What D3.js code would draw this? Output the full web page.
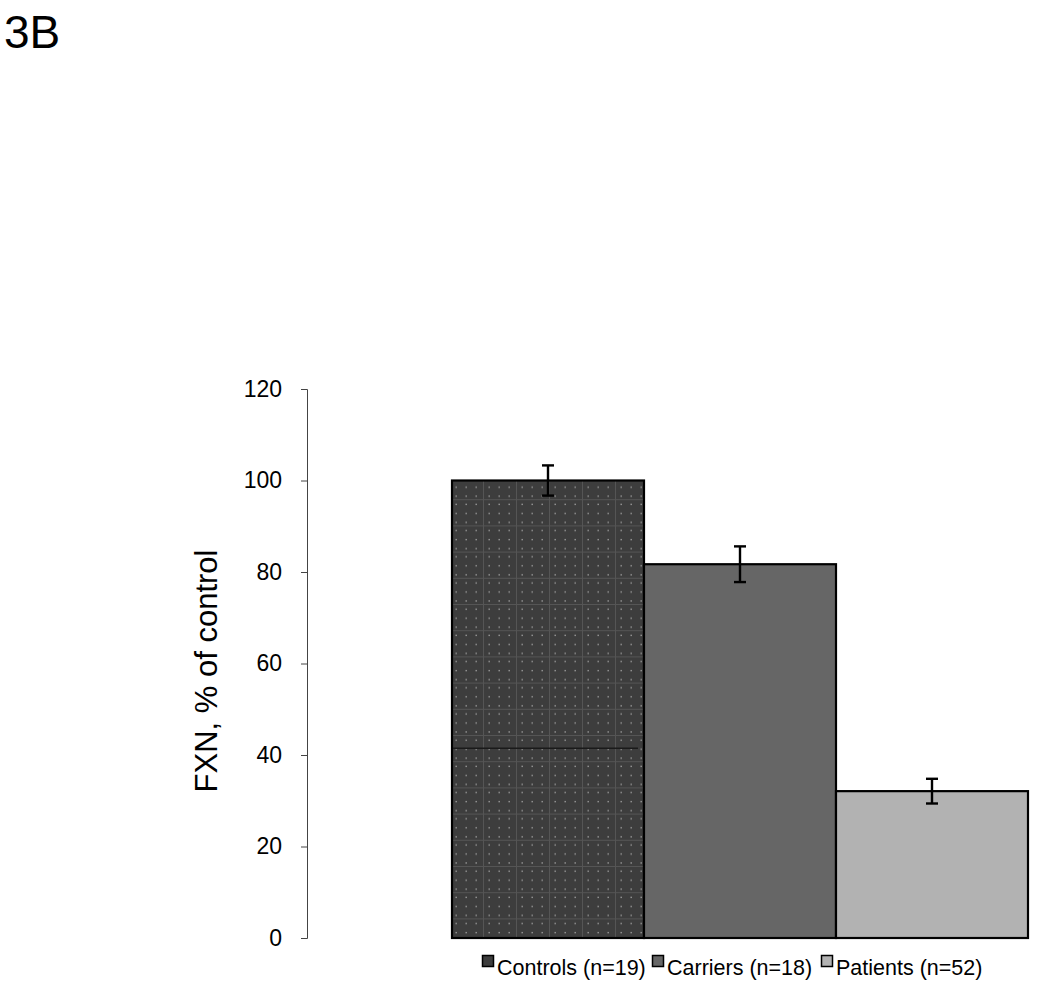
<!DOCTYPE html>
<html><head><meta charset="utf-8">
<script src="https://cdn.jsdelivr.net/npm/d3@7"></script>
<style>body{margin:0;background:#fff}svg{display:block;font-family:"Liberation Sans",Arial,sans-serif}</style>
</head><body>
<svg id="c" width="1050" height="995"></svg>
<script>
const categories = ["Controls (n=19)", "Carriers (n=18)", "Patients (n=52)"];
const values = [100, 81.7, 32.1];
const errors = [3.3, 3.9, 2.7];
const yTicks = [0, 20, 40, 60, 80, 100, 120];
const colors = ["#3d3d3d", "#666666", "#b2b2b2"];

const svg = d3.select("#c");
const y = d3.scaleLinear().domain([0, 120]).range([938, 389]);
const x = d3.scaleBand().domain(categories).range([452, 1028]).padding(0);

// pattern for Controls
const defs = svg.append("defs");
const pat = defs.append("pattern").attr("id","dots").attr("patternUnits","userSpaceOnUse")
  .attr("width", 33).attr("height", 26.2).attr("x", 450).attr("y", 473);
pat.append("rect").attr("width",33).attr("height",26.2).attr("fill",colors[0]);
pat.append("line").attr("x1",0.5).attr("x2",0.5).attr("y1",0).attr("y2",26.2).attr("stroke","#555").attr("stroke-width",1);
pat.append("line").attr("x1",0).attr("x2",33).attr("y1",0.5).attr("y2",0.5).attr("stroke","#555").attr("stroke-width",1);
[5.5,15.5,25.5].forEach(px=>[4.5,13.5,22.5].forEach(py=>{
  pat.append("rect").attr("x",px).attr("y",py).attr("width",1.4).attr("height",1.4).attr("fill","#9a9a9a");
}));

// axis
const yAxis = d3.axisLeft(y).tickValues(yTicks).tickSize(6).tickPadding(19);
const ga = svg.append("g").attr("transform","translate(307,0)").call(yAxis);
ga.attr("font-size", 23).attr("font-family","Liberation Sans, Arial, sans-serif");
ga.select(".domain").attr("stroke","#444").attr("stroke-width",1).attr("d","M-6,389.5H0.5V938.5H-6");
ga.selectAll(".tick line").attr("stroke","#444");
ga.selectAll(".tick text").attr("fill","#000");

// bars
svg.selectAll("rect.bar").data(categories).join("rect").attr("class","bar")
  .attr("x", d=>x(d)).attr("width", x.bandwidth())
  .attr("y", (d,i)=>y(values[i])).attr("height",(d,i)=>y(0)-y(values[i]))
  .attr("fill",(d,i)=> i===0 ? "url(#dots)" : colors[i])
  .attr("stroke","#000").attr("stroke-width",2.2);

// artifact line in controls bar
svg.append("line").attr("x1",x(categories[0])+1).attr("x2",x(categories[0])+x.bandwidth()-6)
  .attr("y1",y(41.5)).attr("y2",y(41.5)).attr("stroke","#1a1a1a").attr("stroke-width",1.5);

// error bars
const eg = svg.append("g").attr("stroke","#000").attr("stroke-width",2.4);
categories.forEach((c,i)=>{
  const cx = x(c) + x.bandwidth()/2;
  const t = y(values[i]+errors[i]), b = y(values[i]-errors[i]);
  eg.append("line").attr("x1",cx).attr("x2",cx).attr("y1",t).attr("y2",b);
  eg.append("line").attr("x1",cx-6).attr("x2",cx+6).attr("y1",t).attr("y2",t);
  eg.append("line").attr("x1",cx-6).attr("x2",cx+6).attr("y1",b).attr("y2",b);
});

// y title
svg.append("text").attr("transform","translate(217,671) rotate(-90)").attr("text-anchor","middle")
  .attr("font-size",31).text("FXN, % of control");

// panel label
svg.append("text").attr("x",4).attr("y",48).attr("font-size",46).text("3B");

// legend
const legX = [482, 652, 821];
const lg = svg.append("g");
categories.forEach((c,i)=>{
  lg.append("rect").attr("x",legX[i]+0.5).attr("y",955.5).attr("width",11).attr("height",11)
    .attr("fill",colors[i]).attr("stroke","#000").attr("stroke-width",1.5);
  lg.append("text").attr("x",legX[i]+15).attr("y",975).attr("font-size",21.5).text(c);
});
</script>
</body></html>
